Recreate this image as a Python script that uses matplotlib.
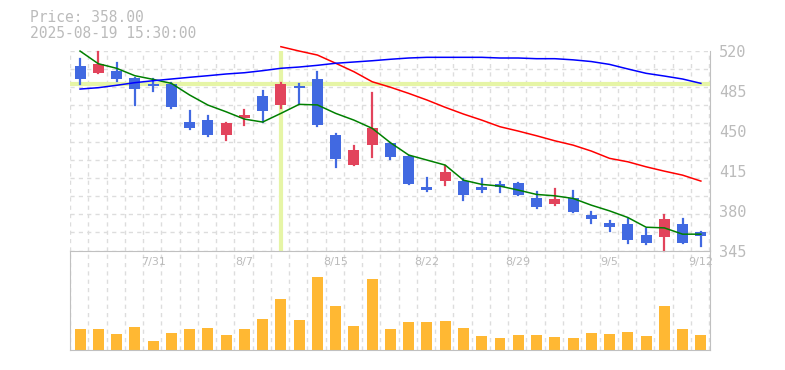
import numpy as np
import matplotlib
matplotlib.use('Agg')
import matplotlib.pyplot as plt
from matplotlib.patches import Rectangle

# daily candles, 7/25 .. 9/12
dates = ['7/25','7/28','7/29','7/30','7/31','8/1','8/4','8/5','8/6','8/7',
         '8/8','8/12','8/13','8/14','8/15','8/18','8/19','8/20','8/21','8/22',
         '8/25','8/26','8/27','8/28','8/29','9/1','9/2','9/3','9/4','9/5',
         '9/8','9/9','9/10','9/11','9/12']
tick_dates = ['7/31','8/7','8/15','8/22','8/29','9/5','9/12']

opens  = [506.6,500.7,502.2,496.1,491.0,490.8,457.5,459.0,446.4,461.3,
          480.3,472.7,489.1,495.2,446.1,419.8,437.3,439.1,427.7,400.5,
          406.0,405.8,400.5,403.1,404.0,390.9,385.9,390.9,376.0,369.0,
          368.0,358.4,356.9,368.0,361.0]
highs  = [512.7,519.1,509.2,496.5,495.3,491.5,467.1,462.8,456.6,468.0,
          484.7,491.5,490.8,501.6,447.0,436.4,482.7,439.5,428.0,408.1,
          418.6,407.3,407.3,404.9,404.5,396.1,398.8,397.0,378.3,370.7,
          372.4,364.0,376.0,372.4,361.0]
lows   = [491.1,500.7,493.7,472.7,484.7,469.8,451.6,445.5,442.0,455.1,
          457.2,470.0,473.0,454.0,418.3,419.8,427.1,425.3,403.0,397.3,
          402.5,389.1,396.4,396.4,393.5,382.1,384.7,378.9,369.2,361.9,
          351.7,350.5,344.4,351.7,349.0]
closes = [495.5,508.3,495.5,486.7,489.3,470.9,452.5,446.1,456.6,463.6,
          467.4,490.8,487.6,454.9,425.1,432.9,452.2,427.1,403.4,398.1,
          413.7,393.8,398.1,400.5,393.8,383.0,390.0,378.9,372.7,365.4,
          354.3,351.7,372.7,351.7,358.0]
volume = [60,60,48,66,27,51,60,63,45,60,90,150,87,213,129,69,207,60,81,81,
          84,63,42,36,45,45,39,36,51,48,54,42,129,60,45]

ma5  = [519.7,508.6,504.6,498.1,494.9,491.4,481.2,472.4,466.5,460.1,
        457.5,465.1,473.0,472.5,465.1,459.2,452.0,439.4,428.6,424.2,
        419.8,406.6,402.9,401.4,397.9,394.1,392.9,390.6,384.7,379.7,
        373.9,365.4,364.8,359.3,359.3]
ma25 = [np.nan]*11 + [523.5,519.7,516.2,509.0,501.6,492.8,488.0,482.6,476.8,
        470.4,464.5,459.2,453.4,449.6,445.5,441.1,437.3,432.1,425.7,
        422.7,418.3,414.5,411.0,405.8]
ma75 = [486.4,487.6,489.7,492.0,493.7,495.2,496.7,498.1,499.6,500.7,
        502.5,504.6,505.7,507.2,509.0,510.1,511.2,512.5,513.6,514.2,
        514.2,514.2,514.2,513.6,513.6,513.0,513.0,512.0,510.5,508.0,
        504.0,500.2,497.8,495.2,491.4]

price_ticks = [520, 485, 450, 415, 380, 345]
cross_price = 490.4
cross_idx = 11

up_col = '#e2445c'
dn_col = '#4169e1'
grid_col = '#dddddd'
frame_col = '#c0c0c0'
text_col = '#bbbbbb'

fig = plt.figure(figsize=(7.85, 3.70), dpi=100)
axv = fig.add_axes([70/785, 20/370, 640/785, 100.0/370])
ax = fig.add_axes([70/785, 1-250.5/370, 640/785, 199.8/370])
ax.patch.set_alpha(0)
axv.patch.set_alpha(0)

n = len(dates)
x = np.arange(n)
for a in (ax, axv):
    a.set_xlim(-0.55, 34.5)
    for k in range(36):
        a.axvline(k - 0.55, color=grid_col, lw=1, ls=(0, (3, 3)), zorder=0)
    a.set_xticks([])
    a.set_yticks([])

ax.set_ylim(345, 520)
for v in np.linspace(520, 345, 12):
    ax.axhline(v, color=grid_col, lw=1, ls=(0, (3, 3)), zorder=0)

for s in ['top', 'left']:
    ax.spines[s].set_visible(False)
for s in ['right', 'bottom']:
    ax.spines[s].set_color(frame_col)
    ax.spines[s].set_zorder(6)
axv.spines['top'].set_visible(False)
for s in ['left', 'right', 'bottom']:
    axv.spines[s].set_color(frame_col)

# crosshair
ax.axhline(cross_price, color='#e6f5a6', lw=3, zorder=1)
ax.plot([cross_idx, cross_idx], [345.8, 520], color='#e6f5a6', lw=3, zorder=1)

# candles
w = 0.6
for i in range(n):
    c = up_col if closes[i] > opens[i] else dn_col
    ax.plot([i, i], [lows[i], highs[i]], color=c, lw=1.6, zorder=3, clip_on=False)
    lo = min(opens[i], closes[i])
    h = max(abs(closes[i] - opens[i]), 1.2)
    ax.add_patch(Rectangle((i - w/2, lo), w, h, color=c, zorder=3, lw=0))

ax.plot(x, ma5, color='#008000', lw=1.1, zorder=4, clip_on=False)
ax.plot(x, ma25, color='#ff0000', lw=1.1, zorder=4, clip_on=False)
ax.plot(x, ma75, color='#0000ff', lw=1.1, zorder=4, clip_on=False)

for p in price_ticks:
    ax.annotate(str(p), xy=(1, p), xycoords=('axes fraction', 'data'),
                xytext=(9, -2), textcoords='offset pixels', ha='left', va='center',
                color=text_col, fontsize=11, family='DejaVu Sans Mono', annotation_clip=False)

# volume
axv.set_ylim(0, 292)
axv.bar(x, volume, width=w, color='#ffb833', zorder=2)
for d in tick_dates:
    i = dates.index(d)
    axv.text(i, 0.885, d, transform=axv.get_xaxis_transform(), ha='center', va='center',
             color=text_col, fontsize=8)

fig.text(30/785, 1-17/370, 'Price: 358.00', color=text_col, fontsize=10.5,
         family='DejaVu Sans Mono', va='center')
fig.text(30/785, 1-33/370, '2025-08-19 15:30:00', color=text_col, fontsize=10.5,
         family='DejaVu Sans Mono', va='center')

fig.savefig('out.png', dpi=100)
